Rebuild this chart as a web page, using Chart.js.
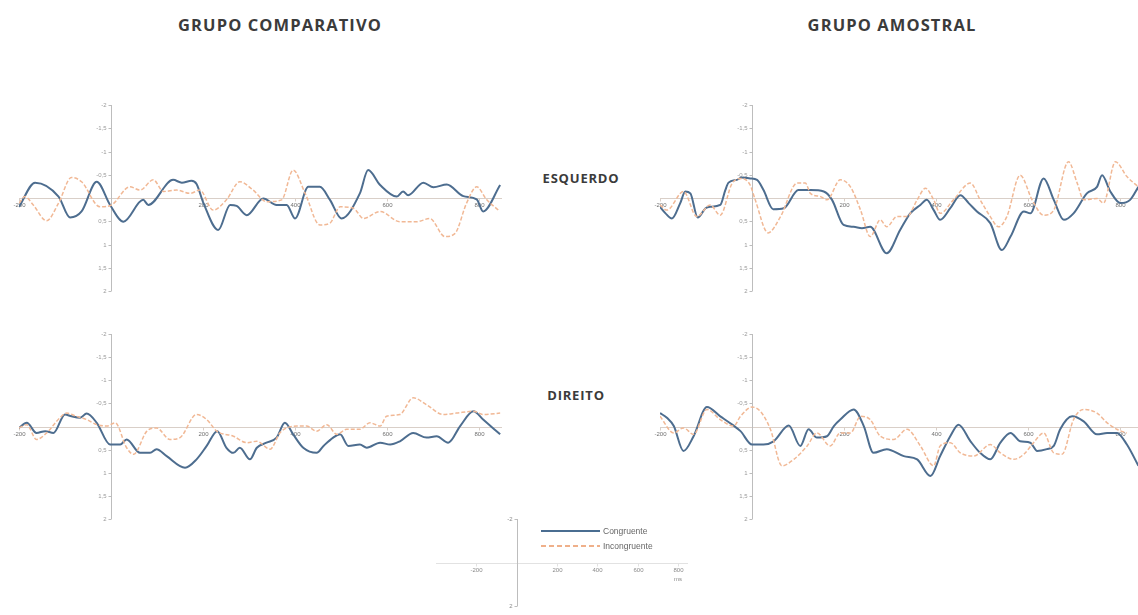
<!DOCTYPE html>
<html lang="pt">
<head>
<meta charset="utf-8">
<title>ERP – Congruente x Incongruente</title>
<script src="https://cdn.jsdelivr.net/npm/chart.js@4.4.1/dist/chart.umd.min.js"></script>
<style>
  html, body { margin: 0; padding: 0; background: #fff; width: 1138px; height: 615px; overflow: hidden; }
  canvas { position: absolute; display: block; }
  .lbl { position: absolute; font-family: "Open Sans", sans-serif; font-weight: 700; color: #3b3b3b;
         white-space: nowrap; transform: translate(-50%, -50%); }
  .group { font-size: 16.5px; letter-spacing: 1.1px; }
  .side { font-size: 13px; letter-spacing: 0.8px; }
  .key { position: absolute; font-family: "Liberation Sans", sans-serif; font-size: 8.5px; color: #666;
         display: flex; align-items: center; white-space: nowrap; }
  .sw { display: inline-block; width: 59px; height: 2px; margin-right: 3px; }
  .sw.cong { background: #4a6d91; }
  .sw.inc { background: repeating-linear-gradient(90deg, #efb08a 0 5px, transparent 5px 8px); }
</style>
</head>
<body>

<div class="lbl group" style="left:280px; top:24px;">GRUPO COMPARATIVO</div>
<div class="lbl group" style="left:892px; top:24px;">GRUPO AMOSTRAL</div>
<div class="lbl side" style="left:581px; top:178px;">ESQUERDO</div>
<div class="lbl side" style="left:576px; top:395px;">DIREITO</div>

<canvas id="compEsq" width="520" height="215" style="left:0; top:90px;"></canvas>
<canvas id="amoEsq" width="510" height="215" style="left:640px; top:90px;"></canvas>
<canvas id="compDir" width="520" height="215" style="left:0; top:320px;"></canvas>
<canvas id="amoDir" width="510" height="215" style="left:640px; top:320px;"></canvas>
<canvas id="keyAxes" width="270" height="105" style="left:430px; top:510px;"></canvas>

<div class="key" style="left:541px; top:526px;"><span class="sw cong"></span>Congruente</div>
<div class="key" style="left:541px; top:541px;"><span class="sw inc"></span>Incongruente</div>

<script>
// Axis ticks (µV, negative up) and time ticks (ms)
const yTickValues = [-2, -1.5, -1, -0.5, 0.5, 1, 1.5, 2];
const yTickLabels = ['-2', '-1,5', '-1', '-0,5', '0,5', '1', '1,5', '2'];
const xTickValues = [-200, 200, 400, 600, 800];
const xTickLabels = ['-200', '200', '400', '600', '800'];

// GRUPO COMPARATIVO – ESQUERDO
const compEsqCongT = [-200,-165,-114,-89,-64,-31,-2,27,70,81,135,154,175,186,201,233,259,273,295,331,360,382,400,429,454,476,501,541,559,585,621,635,646,679,701,730,766,795,809,846];
const compEsqCongV = [0.19,-0.33,-0.03,0.42,0.29,-0.35,0.15,0.51,0.04,0.15,-0.39,-0.33,-0.37,-0.30,0.11,0.69,0.15,0.17,0.37,0.01,0.15,0.15,0.44,-0.24,-0.24,0.04,0.44,-0.10,-0.60,-0.28,-0.03,-0.14,-0.06,-0.33,-0.23,-0.29,-0.04,0.03,0.29,-0.28];
const compEsqIncT = [-200,-187,-169,-140,-114,-86,-64,-24,1,41,63,92,114,143,172,193,222,251,280,309,338,371,396,422,454,476,498,527,549,585,628,665,693,726,748,773,795,817,842];
const compEsqIncV = [0.11,-0.03,0.15,0.49,0.11,-0.44,-0.35,0.19,0.15,-0.24,-0.17,-0.39,-0.14,-0.17,-0.10,-0.17,0.26,0.04,-0.35,-0.17,0.08,0.04,-0.60,-0.10,0.58,0.54,0.19,0.22,0.44,0.29,0.51,0.51,0.44,0.83,0.76,0.11,-0.24,0.04,0.26];

// GRUPO AMOSTRAL – ESQUERDO
const amoEsqCongT = [-200,-188,-174,-156,-145,-134,-118,-101,-91,-69,-58,-51,-33,-22,-4,11,25,46,69,101,127,156,174,199,221,239,257,293,322,344,366,380,395,409,431,453,471,489,518,543,562,591,605,634,656,678,699,728,750,761,779,801,822,840];
const amoEsqCongV = [0.19,0.33,0.44,0.11,-0.14,-0.10,0.42,0.22,0.19,0.15,-0.17,-0.33,-0.39,-0.44,-0.42,-0.39,-0.17,0.24,0.22,-0.17,-0.17,-0.14,0.04,0.58,0.62,0.65,0.62,1.19,0.69,0.33,0.15,0.04,0.26,0.47,0.22,-0.06,0.11,0.29,0.54,1.12,0.83,0.29,0.33,-0.42,0.04,0.47,0.33,-0.10,-0.24,-0.49,-0.14,0.11,0.04,-0.24];
const amoEsqIncT = [-200,-185,-149,-120,-91,-69,-43,-22,-4,7,35,62,98,116,127,149,163,192,214,236,257,279,293,315,337,359,377,395,409,438,475,496,518,536,554,583,609,634,656,688,707,721,750,764,790,815,840];
const amoEsqIncV = [0.15,0.26,-0.14,0.40,0.15,0.37,-0.32,-0.42,-0.28,0.04,0.75,0.40,-0.32,-0.32,-0.10,-0.03,0.04,-0.39,-0.24,0.26,0.83,0.47,0.62,0.40,0.40,0.04,-0.21,0.04,0.33,0.04,-0.32,0.04,0.40,0.62,0.40,-0.49,0.04,0.37,0.26,-0.78,-0.32,0.04,0.01,0.11,-0.78,-0.46,-0.24];

// GRUPO COMPARATIVO – DIREITO
const compDirCongT = [-200,-183,-162,-143,-125,-100,-86,-67,-53,-31,-2,20,34,63,85,99,121,161,186,208,231,251,266,280,302,317,338,360,378,396,418,447,462,483,498,516,541,556,585,607,628,657,686,708,733,759,788,809,846];
const compDirCongV = [0.03,-0.08,0.14,0.10,0.14,-0.26,-0.22,-0.19,-0.28,-0.08,0.39,0.39,0.28,0.57,0.57,0.49,0.64,0.89,0.71,0.42,0.10,0.46,0.57,0.46,0.71,0.46,0.35,0.24,-0.08,0.17,0.46,0.57,0.42,0.24,0.17,0.42,0.39,0.46,0.35,0.39,0.32,0.14,0.24,0.21,0.35,-0.01,-0.33,-0.15,0.17];
const compDirIncT = [-200,-183,-162,-140,-111,-96,-75,-53,-31,-9,9,34,49,78,99,128,150,186,208,230,266,295,317,346,367,382,404,425,447,469,491,512,541,563,585,599,628,657,686,722,751,788,809,846];
const compDirIncV = [0.03,-0.04,0.28,0.14,-0.19,-0.29,-0.22,-0.15,-0.04,-0.01,-0.08,0.46,0.60,0.10,0.03,0.28,0.24,-0.26,-0.15,0.10,0.21,0.35,0.32,0.49,0.14,0.03,-0.01,-0.01,0.10,-0.04,0.17,0.06,0.06,-0.08,-0.01,-0.22,-0.26,-0.62,-0.47,-0.26,-0.29,-0.33,-0.26,-0.29];

// GRUPO AMOSTRAL – DIREITO
const amoDirCongT = [-200,-185,-170,-149,-127,-98,-69,-43,-25,0,25,47,80,105,123,141,163,178,192,221,243,264,293,330,359,388,409,431,449,475,496,518,540,562,583,605,620,641,656,670,696,721,750,772,793,815,840];
const amoDirCongV = [-0.29,-0.19,-0.01,0.53,0.21,-0.42,-0.22,-0.04,0.10,0.39,0.39,0.32,-0.02,0.42,0.06,0.24,0.21,-0.01,-0.15,-0.37,-0.01,0.57,0.49,0.64,0.71,1.07,0.64,0.21,-0.04,0.32,0.57,0.71,0.35,0.14,0.32,0.35,0.53,0.49,0.42,0.06,-0.22,-0.11,0.17,0.14,0.14,0.39,0.85];
const amoDirIncT = [-200,-170,-149,-127,-98,-69,-40,-25,0,18,40,65,91,120,141,170,192,214,236,257,279,308,337,366,395,409,431,453,482,518,540,569,591,612,634,656,674,699,721,750,772,793,815];
const amoDirIncV = [-0.22,0.14,0.03,0.17,-0.37,-0.15,-0.01,-0.22,-0.42,-0.33,0.06,0.85,0.71,0.42,0.14,0.42,0.14,0.14,-0.22,-0.15,0.21,0.28,0.06,0.42,0.85,0.42,0.35,0.57,0.64,0.39,0.57,0.71,0.60,0.35,0.14,0.57,0.60,-0.15,-0.37,-0.29,-0.08,0.06,0.14];

const CONG_COLOR = '#4d6d8f';
const INC_COLOR = '#f1b895';

// Axes that cross at (0 ms, 0 µV), drawn from the chart's own scales
const crossAxes = {
  id: 'crossAxes',
  beforeDatasetsDraw(chart, args, o) {
    const { ctx, chartArea: a, scales: { x, y } } = chart;
    const x0 = Math.round(x.getPixelForValue(0)) + 0.5;
    const y0 = Math.round(y.getPixelForValue(0)) + 0.5;
    ctx.save();
    ctx.lineWidth = 1;
    // horizontal zero line
    ctx.strokeStyle = o.hColor;
    ctx.beginPath(); ctx.moveTo(a.left, y0); ctx.lineTo(a.right, y0); ctx.stroke();
    // vertical axis at 0 ms
    ctx.strokeStyle = o.vColor;
    ctx.beginPath(); ctx.moveTo(x0, y.getPixelForValue(o.yMin)); ctx.lineTo(x0, y.getPixelForValue(o.yMax)); ctx.stroke();
    // y ticks and labels
    ctx.font = o.font;
    ctx.fillStyle = o.yText;
    ctx.textAlign = 'right';
    ctx.textBaseline = 'middle';
    o.yTicks.forEach((v, i) => {
      const py = Math.round(y.getPixelForValue(v)) + 0.5;
      ctx.beginPath(); ctx.moveTo(x0 - 3, py); ctx.lineTo(x0, py); ctx.stroke();
      ctx.fillText(o.yLabels[i], x0 - 5, py);
    });
    // x ticks and labels
    ctx.fillStyle = o.xText;
    ctx.textAlign = 'center';
    ctx.textBaseline = 'top';
    o.xTicks.forEach((v, i) => {
      const px = Math.round(x.getPixelForValue(v)) + 0.5;
      ctx.strokeStyle = o.hColor;
      ctx.beginPath(); ctx.moveTo(px, y0); ctx.lineTo(px, y0 + 3); ctx.stroke();
      ctx.fillText(o.xLabels[i], px, y0 + 4);
    });
    if (o.unit) {
      const pxu = x.getPixelForValue(o.xTicks[o.xTicks.length - 1]);
      ctx.fillText(o.unit, pxu, y0 + 13);
    }
    ctx.restore();
  }
};

function pts(t, v) { return t.map((ms, i) => ({ x: ms, y: v[i] })); }

function erpPanel(id, congT, congV, incT, incV, pad) {
  new Chart(document.getElementById(id), {
    type: 'line',
    data: {
      datasets: [
        { label: 'Incongruente', data: pts(incT, incV), borderColor: INC_COLOR, borderWidth: 1.5,
          borderDash: [4, 2], pointRadius: 0, cubicInterpolationMode: 'monotone', fill: false },
        { label: 'Congruente', data: pts(congT, congV), borderColor: CONG_COLOR, borderWidth: 2,
          pointRadius: 0, cubicInterpolationMode: 'monotone', fill: false }
      ]
    },
    options: {
      responsive: false, animation: false, events: [],
      layout: { padding: pad },
      plugins: {
        legend: { display: false }, tooltip: { enabled: false },
        crossAxes: {
          yTicks: yTickValues, yLabels: yTickLabels, xTicks: xTickValues, xLabels: xTickLabels,
          yMin: -2, yMax: 2, font: '6px "Liberation Sans"', yText: '#9a9a9a', xText: '#707070',
          hColor: '#d9cfc8', vColor: '#bdbdbd'
        }
      },
      scales: {
        x: { type: 'linear', min: -200, max: 850, display: false },
        y: { type: 'linear', min: -2, max: 2, reverse: true, display: false }
      }
    },
    plugins: [crossAxes]
  });
}

erpPanel('compEsq', compEsqCongT, compEsqCongV, compEsqIncT, compEsqIncV, { left: 19, right: 18, top: 15, bottom: 14 });
erpPanel('amoEsq', amoEsqCongT, amoEsqCongV, amoEsqIncT, amoEsqIncV, { left: 20, right: 7, top: 15, bottom: 14 });
erpPanel('compDir', compDirCongT, compDirCongV, compDirIncT, compDirIncV, { left: 19, right: 18, top: 14, bottom: 16 });
erpPanel('amoDir', amoDirCongT, amoDirCongV, amoDirIncT, amoDirIncV, { left: 20, right: 7, top: 14, bottom: 16 });

// Small key axes under the legend
new Chart(document.getElementById('keyAxes'), {
  type: 'line',
  data: { datasets: [] },
  options: {
    responsive: false, animation: false, events: [],
    layout: { padding: { left: 6, right: 12, top: 9, bottom: 9 } },
    plugins: {
      legend: { display: false }, tooltip: { enabled: false },
      crossAxes: {
        yTicks: [-2, 2], yLabels: ['-2', '2'], xTicks: xTickValues, xLabels: xTickLabels, unit: 'ms',
        yMin: -2, yMax: 2, font: '6px "Liberation Sans"', yText: '#8a8a8a', xText: '#8a8a8a',
        hColor: '#e2e2e2', vColor: '#bdbdbd'
      }
    },
    scales: {
      x: { type: 'linear', min: -400, max: 850, display: false },
      y: { type: 'linear', min: -2, max: 2, reverse: true, display: false }
    }
  },
  plugins: [crossAxes]
});
</script>
</body>
</html>
